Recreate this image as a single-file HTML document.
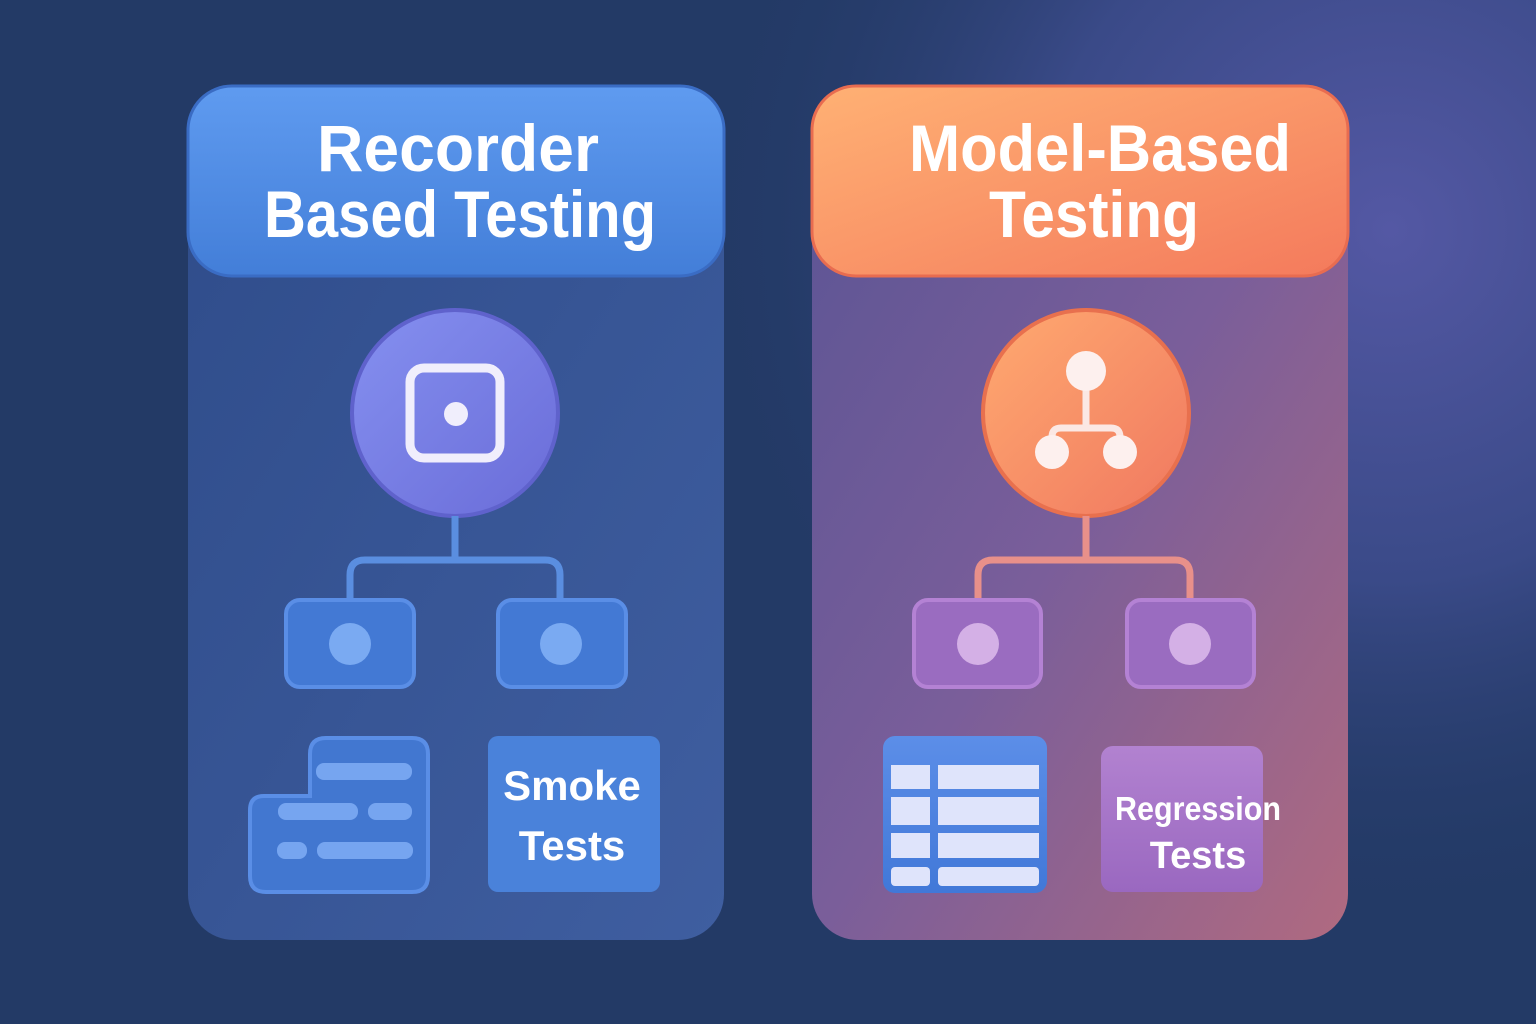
<!DOCTYPE html>
<html><head><meta charset="utf-8"><style>
html,body{margin:0;padding:0;width:1536px;height:1024px;overflow:hidden;background:#233a66}
svg{display:block}
text{font-family:"Liberation Sans",sans-serif;font-weight:bold;fill:#fff}
</style></head><body>
<svg width="1536" height="1024" viewBox="0 0 1536 1024" xmlns="http://www.w3.org/2000/svg">
<defs>
<radialGradient id="bgglow" cx="1390" cy="230" r="700" gradientUnits="userSpaceOnUse">
<stop offset="0" stop-color="#5458a4"/><stop offset="0.5" stop-color="#3a4a88"/><stop offset="1" stop-color="#233a66" stop-opacity="0"/>
</radialGradient>
<linearGradient id="lp" x1="0" y1="0" x2="1" y2="1">
<stop offset="0" stop-color="#2f4c8a"/><stop offset="1" stop-color="#3f5ea0"/>
</linearGradient>
<linearGradient id="rp" x1="0" y1="0" x2="1" y2="1">
<stop offset="0" stop-color="#5a5494"/><stop offset="0.5" stop-color="#7a5e9a"/><stop offset="1" stop-color="#b06a80"/>
</linearGradient>
<linearGradient id="lh" x1="0" y1="0" x2="0" y2="1">
<stop offset="0" stop-color="#5f9bf0"/><stop offset="1" stop-color="#437ed8"/>
</linearGradient>
<linearGradient id="rh" x1="0" y1="0" x2="1" y2="1">
<stop offset="0" stop-color="#ffb174"/><stop offset="1" stop-color="#f47a5c"/>
</linearGradient>
<linearGradient id="lc" x1="0" y1="0" x2="1" y2="1">
<stop offset="0" stop-color="#8590f0"/><stop offset="1" stop-color="#6a6cd8"/>
</linearGradient>
<linearGradient id="rc" x1="0" y1="0" x2="1" y2="1">
<stop offset="0" stop-color="#ffaa70"/><stop offset="1" stop-color="#f07860"/>
</linearGradient>
<linearGradient id="rb" x1="0" y1="0" x2="0" y2="1">
<stop offset="0" stop-color="#b282d0"/><stop offset="1" stop-color="#9a68c0"/>
</linearGradient>
<linearGradient id="tb" x1="0" y1="0" x2="0" y2="1">
<stop offset="0" stop-color="#5c8ee8"/><stop offset="1" stop-color="#4178d8"/>
</linearGradient>
</defs>
<rect width="1536" height="1024" fill="#233a66"/>
<rect width="1536" height="1024" fill="url(#bgglow)"/>

<!-- LEFT PANEL -->
<rect x="188" y="86" width="536" height="854" rx="46" fill="url(#lp)"/>
<rect x="188" y="86" width="536" height="190" rx="44" fill="url(#lh)" stroke="#3a6cc4" stroke-width="3"/>
<text x="458" y="171" font-size="66" text-anchor="middle" textLength="282" lengthAdjust="spacingAndGlyphs">Recorder</text>
<text x="460" y="237" font-size="66" text-anchor="middle" textLength="392" lengthAdjust="spacingAndGlyphs">Based Testing</text>

<circle cx="455" cy="413" r="103" fill="url(#lc)" stroke="#5f62cc" stroke-width="4"/>
<rect x="410" y="368" width="90" height="90" rx="14" fill="none" stroke="#f0eefc" stroke-width="9"/>
<circle cx="456" cy="414" r="12" fill="#f0eefc"/>

<path d="M455 516 V560 M350 600 V575 Q350 560 365 560 H545 Q560 560 560 575 V600" fill="none" stroke="#5a8ee0" stroke-width="7"/>
<rect x="286" y="600" width="128" height="87" rx="14" fill="#4379d4" stroke="#5a8ee6" stroke-width="4"/>
<circle cx="350" cy="644" r="21" fill="#7aaaf2"/>
<rect x="498" y="600" width="128" height="87" rx="14" fill="#4379d4" stroke="#5a8ee6" stroke-width="4"/>
<circle cx="561" cy="644" r="21" fill="#7aaaf2"/>

<path d="M250 810 Q250 796 264 796 H310 V754 Q310 738 326 738 H412 Q428 738 428 754 V876 Q428 892 412 892 H266 Q250 892 250 876 Z" fill="#4277d0" stroke="#5a8ee6" stroke-width="4"/>
<rect x="316" y="763" width="96" height="17" rx="8" fill="#76a5f0"/>
<rect x="278" y="803" width="80" height="17" rx="8" fill="#76a5f0"/>
<rect x="368" y="803" width="44" height="17" rx="8" fill="#76a5f0"/>
<rect x="277" y="842" width="30" height="17" rx="8" fill="#76a5f0"/>
<rect x="317" y="842" width="96" height="17" rx="8" fill="#76a5f0"/>

<rect x="488" y="736" width="172" height="156" rx="10" fill="#4a82da"/>
<text x="572" y="800" font-size="42" text-anchor="middle">Smoke</text>
<text x="572" y="860" font-size="42" text-anchor="middle">Tests</text>

<!-- RIGHT PANEL -->
<rect x="812" y="86" width="536" height="854" rx="46" fill="url(#rp)"/>
<rect x="812" y="86" width="536" height="190" rx="44" fill="url(#rh)" stroke="#e86c50" stroke-width="3"/>
<text x="1100" y="171" font-size="66" text-anchor="middle" textLength="382" lengthAdjust="spacingAndGlyphs">Model-Based</text>
<text x="1094" y="237" font-size="66" text-anchor="middle" textLength="210" lengthAdjust="spacingAndGlyphs">Testing</text>

<circle cx="1086" cy="413" r="103" fill="url(#rc)" stroke="#e8704e" stroke-width="4"/>
<path d="M1086 390 V428 M1052 440 V437 Q1052 428 1061 428 H1111 Q1120 428 1120 437 V440" fill="none" stroke="#fbe8e4" stroke-width="7"/>
<circle cx="1086" cy="371" r="20" fill="#fdf0ee"/>
<circle cx="1052" cy="452" r="17" fill="#fdf0ee"/>
<circle cx="1120" cy="452" r="17" fill="#fdf0ee"/>

<path d="M1086 516 V560 M978 600 V575 Q978 560 993 560 H1175 Q1190 560 1190 575 V600" fill="none" stroke="#e8908a" stroke-width="7"/>
<rect x="914" y="600" width="127" height="87" rx="14" fill="#9a6cc0" stroke="#b482d4" stroke-width="4"/>
<circle cx="978" cy="644" r="21" fill="#d4b0e6"/>
<rect x="1127" y="600" width="127" height="87" rx="14" fill="#9a6cc0" stroke="#b482d4" stroke-width="4"/>
<circle cx="1190" cy="644" r="21" fill="#d4b0e6"/>

<rect x="883" y="736" width="164" height="157" rx="12" fill="url(#tb)"/>
<g fill="#dfe4fb">
<rect x="891" y="765" width="39" height="24"/><rect x="938" y="765" width="101" height="24"/>
<rect x="891" y="797" width="39" height="28"/><rect x="938" y="797" width="101" height="28"/>
<rect x="891" y="833" width="39" height="25"/><rect x="938" y="833" width="101" height="25"/>
<rect x="891" y="867" width="39" height="19" rx="4"/><rect x="938" y="867" width="101" height="19" rx="4"/>
</g>

<rect x="1101" y="746" width="162" height="146" rx="12" fill="url(#rb)"/>
<text x="1198" y="820" font-size="33" text-anchor="middle" textLength="166" lengthAdjust="spacingAndGlyphs">Regression</text>
<text x="1198" y="868" font-size="38" text-anchor="middle">Tests</text>
</svg>
</body></html>
